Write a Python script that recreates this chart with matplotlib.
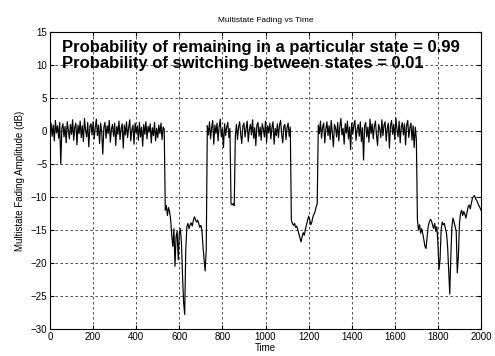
import numpy as np
import matplotlib
matplotlib.use("Agg")
import matplotlib.pyplot as plt

seg_a_t = (0, 530)
seg_a = [0.5, 1.2, -0.8, 0.9, -1.5, 1.6, -0.3, 0.8, -1.1, 1.3,
         -5.0, 0.4, 1.1, -0.9, 0.7, -1.8, 1.4, 0.2, -1.2, 1.0,
         -0.5, 1.7, -1.4, 0.6, 1.2, -2.1, 0.9, -0.4, 1.5, -1.0,
         0.8, -1.6, 1.9, 0.1, -0.9, 1.3, -2.4, 0.7, 1.1, -0.6,
         1.4, -1.2, 0.5, 1.8, -0.7, 0.9, -1.9, 1.2, -0.2, -3.5,
         0.6, 1.3, -1.1, 0.8, -0.4, 1.6, -1.7, 0.3, 1.0, -0.8,
         1.2, -2.2, 0.7, -0.5, 1.5, -1.3, 0.4, 1.1, -2.6, 0.9,
         -0.6, 1.4, -1.0, 0.5, 1.7, -1.5, 0.2, 0.9, -2.0, 1.2,
         -0.3, 0.8, -1.4, 1.3, -0.9, 0.6, -2.3, 1.0, -0.5, 1.4,
         -1.2, 0.7, -0.2, 1.1, -1.8, 0.5, -0.7, 1.3, -1.5, 0.4,
         -1.0, 0.9, -0.4, 1.2, -1.3, 0.6, 0.3]
seg_b_t = (535, 725)
seg_b = [-12.0, -11.3, -12.8, -11.6, -12.2, -13.5, -15.8, -17.5, -14.8, -20.5,
         -16.0, -15.2, -19.5, -15.5, -14.8, -17.0, -22.0, -26.0, -27.8, -18.0,
         -14.5, -14.0, -14.8, -14.2, -13.9, -14.4, -13.6, -13.0, -13.4, -13.8,
         -13.5, -14.0, -14.6, -14.3, -15.0, -17.5, -19.5, -21.2, -18.0]
seg_c_t = (730, 1115)
seg_c = [0.8, -0.6, 1.4, -1.2, 0.5, 1.6, -2.0, 0.9, -0.4, 1.2,
         -1.5, 0.7, 1.8, -0.9, 0.3, -2.5, 1.1, -0.7, 0.6, 1.3,
         -1.0, 0.4, -11.0, -11.2, -11.0, -11.3, -0.8, 1.0, -1.3, 0.6,
         1.4, -0.5, -1.9, 0.8, 1.2, -0.9, 0.4, 1.5, -1.6, 0.2,
         1.0, -0.6, 1.7, -1.1, 0.5, -2.2, 0.9, 1.3, -0.8, 0.6,
         -1.4, 1.1, 0.3, -0.9, 1.5, -1.7, 0.8, -0.3, 1.2, -1.2,
         0.6, 1.4, -2.0, 0.4, -0.7, 1.1, -1.0, 0.9, 1.6, -0.5,
         -1.8, 0.7, 1.0, -1.3, 0.5, 1.2, -0.8, 0.6]
seg_d_t = (1120, 1240)
seg_d = [-13.5, -14.0, -14.3, -14.0, -14.6, -14.4, -15.0, -15.6, -16.2, -16.8,
         -16.0, -15.4, -15.8, -14.9, -14.2, -13.6, -12.9, -13.4, -14.2, -13.8,
         -13.0, -12.6, -12.2, -11.5, -11.0]
seg_e_t = (1245, 1700)
seg_e = [0.9, -0.4, 1.5, -1.1, 0.6, 1.2, -1.8, 0.3, 1.4, -0.7,
         0.8, -1.3, 1.6, -0.2, -2.4, 1.0, 0.5, -0.9, 1.3, -1.5,
         0.7, 1.9, -0.6, 0.4, -2.0, 1.1, -0.3, 1.5, -1.2, 0.6,
         -2.8, 1.2, -0.5, 0.9, 1.6, -1.4, 0.2, 1.0, -0.8, 1.4,
         -1.6, 0.5, -4.4, 0.8, 1.3, -0.9, 0.6, -1.7, 1.8, -0.4,
         1.1, -1.2, 0.7, 1.5, -0.6, -2.2, 1.0, 0.3, -1.0, 1.7,
         -0.7, 0.9, 1.4, -1.5, 0.4, 1.2, -2.6, 0.8, 1.6, -0.5,
         1.0, -1.3, 2.0, 0.2, -0.9, 1.5, -1.8, 0.7, 1.3, -0.6,
         1.1, -2.1, 0.9, 1.6, -1.0, 0.5, 1.2, -1.4, 0.8, -2.5,
         0.6, -1.2]
seg_f_t = (1705, 2000)
seg_f = [-13.5, -15.0, -14.2, -15.5, -14.8, -15.6, -16.5, -17.5, -17.8, -16.0,
         -14.5, -13.8, -13.4, -13.6, -14.2, -14.8, -14.0, -15.2, -14.5, -17.0,
         -21.0, -19.5, -15.0, -13.8, -14.2, -14.0, -14.8, -15.5, -17.5, -21.0,
         -24.7, -19.0, -14.5, -13.2, -13.8, -14.5, -15.2, -21.5, -19.0, -14.0,
         -12.5, -12.0, -12.8, -12.2, -12.6, -13.2, -12.4, -11.5, -11.2, -11.8,
         -11.0, -10.2, -9.9, -9.8, -10.3, -10.5, -10.9, -11.3, -11.6, -12.0]
step = 5

title = "Multistate Fading vs Time"
xlabel = "Time"
ylabel = "Multistate Fading Amplitude (dB)"
note1 = "Probability of remaining in a particular state = 0.99"
note2 = "Probability of switching between states = 0.01"
xticks = list(range(0, 2001, 200))
yticks = list(range(-30, 16, 5))

# ---- assemble ----
segs = [(seg_a_t, seg_a), (seg_b_t, seg_b), (seg_c_t, seg_c),
        (seg_d_t, seg_d), (seg_e_t, seg_e), (seg_f_t, seg_f)]
t_all, v_all = [], []
for (t0, t1), vals in segs:
    tt = np.arange(t0, t1 + 1, step)
    n = min(len(tt), len(vals))
    t_all.extend(tt[:n]); v_all.extend(vals[:n])

plt.rcParams['font.family'] = ['Liberation Sans', 'DejaVu Sans']
fig = plt.figure(figsize=(4.95, 3.56), dpi=100)
ax = fig.add_axes([50/495, 1-329/356, 431/495, 297/356])
ax.plot(t_all, v_all, color='black', lw=0.85)
ax.set_xlim(0, 2000)
ax.set_ylim(-30, 15)
ax.set_xticks(xticks)
ax.set_yticks(yticks)
ax.grid(True, color='black', linestyle=(0, (3, 3)), linewidth=0.6, alpha=0.8)
ax.tick_params(direction='in', top=True, right=True, labelsize=7, length=3, pad=2)
for s in ax.spines.values():
    s.set_linewidth(0.8)
ax.set_title(title, fontsize=6, pad=7)
ax.set_xlabel(xlabel, fontsize=7, labelpad=1)
ax.set_ylabel(ylabel, fontsize=7, labelpad=4)
ax.text(55, 12.6, note1, fontsize=12, fontweight='bold', va='center', ha='left')
ax.text(55, 10.2, note2, fontsize=12, fontweight='bold', va='center', ha='left')
fig.savefig("out.png", dpi=100)
